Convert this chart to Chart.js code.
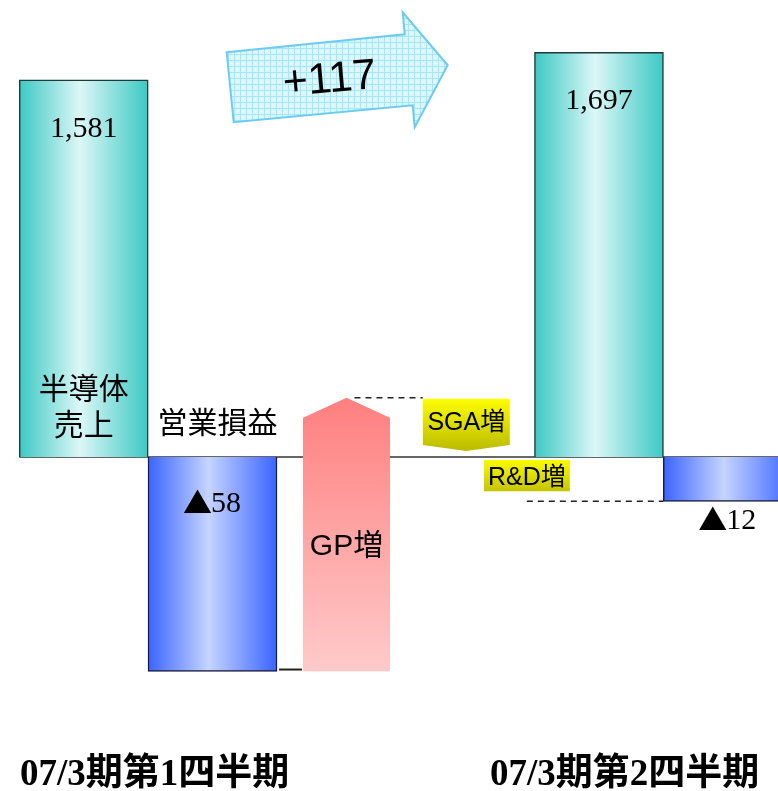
<!DOCTYPE html>
<html lang="ja">
<head>
<meta charset="utf-8">
<title>半導体売上・営業損益</title>
<script src="https://cdn.jsdelivr.net/npm/chart.js@4.4.1/dist/chart.umd.min.js"></script>
<style>
  html, body { margin: 0; padding: 0; background: #fff; overflow: hidden; }
  #chart { display: block; }
</style>
</head>
<body>
<canvas id="chart" width="778" height="791"></canvas>
<script>
/* 半導体売上と営業損益の四半期比較（営業損益の増減ブリッジ付き） */
const periods = ["07/3期第1四半期", "07/3期第2四半期"];
const sales = [1581, 1697];
const opIncome = [-58, -12];
const bridgeLabels = ["GP増", "SGA増", "R&D増"];
const bridgeDeltas = [74, -16, -12];
const salesChange = "+117";
const salesTitle = ["半導体", "売上"];
const opTitle = "営業損益";

/* ---------- layout (x measured in bar slots) ---------- */
const X_MIN = -0.15, X_MAX = 5.89;
const SLOT = { sales: [0.5, 4.5], op: [1.5, 5.5], bridge: [2.54, 3.47, 3.94], period: [1.05, 4.7] };
const W_MAIN = 129;
const W_BRIDGE = [87, 87, 86];
const SERIF = '"Liberation Serif", "Noto Sans CJK JP", serif';
const SANS = '"Liberation Sans", "Noto Sans CJK JP", sans-serif';
const CJK = '"Noto Sans CJK JP", sans-serif';

// running level of operating income through the bridge steps
const steps = [];
let level = opIncome[0];
bridgeDeltas.forEach((d) => { steps.push([level, level + d]); level += d; });

/* ---------- fills ---------- */
function hGrad(edge, mid, width) {
  return (c) => {
    const { chart, raw } = c;
    if (!chart.chartArea || !raw) return edge;
    const cx = chart.scales.x.getPixelForValue(raw.x);
    const g = chart.ctx.createLinearGradient(cx - width / 2, 0, cx + width / 2, 0);
    g.addColorStop(0, edge);
    g.addColorStop(0.47, mid);
    g.addColorStop(1, edge);
    return g;
  };
}

function vGrad(top, bottom) {
  return (c) => {
    const { chart, raw, dataset } = c;
    if (!chart.chartArea || !raw) return top;
    const s = chart.scales[dataset.yAxisID];
    const g = chart.ctx.createLinearGradient(0, s.getPixelForValue(Math.max(...raw.y)), 0, s.getPixelForValue(Math.min(...raw.y)));
    g.addColorStop(0, top);
    g.addColorStop(1, bottom);
    return g;
  };
}

function gridPattern(ctx) {
  const p = document.createElement("canvas");
  p.width = p.height = 6;
  const g = p.getContext("2d");
  g.fillStyle = "#d9f7fd"; g.fillRect(0, 0, 6, 6);
  g.fillStyle = "#a3e8f8"; g.fillRect(0, 0, 6, 1); g.fillRect(0, 0, 1, 6);
  g.fillStyle = "#f4feff"; g.fillRect(3, 3, 1, 1);
  return ctx.createPattern(p, "repeat");
}

// "▲58" style label: the triangle comes from the CJK font, digits in serif
function drawValue(ctx, v, x, y) {
  const mark = v < 0 ? "▲" : "";
  const num = String(Math.abs(v));
  ctx.font = "29px " + CJK;
  const wm = mark ? ctx.measureText(mark).width - 2 : 0;
  ctx.font = "30px " + SERIF;
  const wn = ctx.measureText(num).width;
  const left = x - (wm + wn) / 2;
  ctx.textAlign = "left";
  if (mark) {
    ctx.font = "29px " + CJK;
    ctx.fillText(mark, left - 1, y - 1);
  }
  ctx.font = "30px " + SERIF;
  ctx.fillText(num, left + wm, y);
  ctx.textAlign = "center";
}

/* ---------- plugin: bar outlines (arrow head, tags) ---------- */
const shapes = {
  id: "shapes",
  beforeDatasetDraw(chart, args) {
    const shape = chart.data.datasets[args.index].shape;
    if (!shape) return;
    const ctx = chart.ctx;
    ctx.save();
    ctx.beginPath();
    args.meta.data.forEach((el) => {
      const { x, y, base, width } = el.getProps(["x", "y", "base", "width"], true);
      const top = Math.min(y, base), bot = Math.max(y, base);
      const l = x - width / 2, r = x + width / 2;
      if (shape === "arrowUp") {
        ctx.moveTo(l, bot); ctx.lineTo(l, top + 20); ctx.lineTo(x, top);
        ctx.lineTo(r, top + 20); ctx.lineTo(r, bot);
      } else if (shape === "tagDown") {
        ctx.moveTo(l, top + 1); ctx.lineTo(r, top + 1); ctx.lineTo(r, bot - 12);
        ctx.lineTo(x, bot - 6); ctx.lineTo(l, bot - 12);
      } else {
        ctx.rect(l, top + 3, width, bot - top - 13);
      }
      ctx.closePath();
    });
    ctx.clip();
  },
  afterDatasetDraw(chart, args) {
    if (chart.data.datasets[args.index].shape) chart.ctx.restore();
  },
};

/* ---------- plugin: baseline, guides and texts ---------- */
const annotate = {
  id: "annotate",
  beforeDatasetsDraw(chart) {
    const { ctx, chartArea, scales } = chart;
    const y0 = scales.ySales.getPixelForValue(0);
    const xl = scales.x.getPixelForValue(SLOT.sales[0]) - W_MAIN / 2;
    ctx.save();
    ctx.strokeStyle = "#333";
    ctx.lineWidth = 1.5;
    ctx.beginPath(); ctx.moveTo(xl, y0); ctx.lineTo(chartArea.right, y0); ctx.stroke();
    ctx.restore();
  },
  afterDatasetsDraw(chart) {
    const { ctx, scales } = chart;
    const px = (v) => scales.x.getPixelForValue(v);
    const ys = (v) => scales.ySales.getPixelForValue(v);
    const yo = (v) => scales.yOp.getPixelForValue(v);
    const y0 = ys(0);
    ctx.save();
    ctx.fillStyle = "#000";
    ctx.textAlign = "center";
    ctx.textBaseline = "middle";

    // sales values
    ctx.font = "30px " + SERIF;
    sales.forEach((v, i) => ctx.fillText(v.toLocaleString("en-US"), px(SLOT.sales[i]), ys(v) + 49));

    // operating income values (▲ = loss)
    opIncome.forEach((v, i) => {
      const inside = Math.abs(yo(v) - y0) > 80;
      drawValue(ctx, v, px(SLOT.op[i]), inside ? y0 + 47 : yo(v) + 20);
    });

    // titles
    ctx.font = "30px " + CJK;
    salesTitle.forEach((t, i) => ctx.fillText(t, px(SLOT.sales[0]), y0 - 69 + i * 36));
    ctx.fillText(opTitle, px(SLOT.op[0]) + 5, y0 - 35);

    // bridge step labels
    ctx.font = "30px " + SANS;
    ctx.fillText(bridgeLabels[0], px(SLOT.bridge[0]), yo((steps[0][0] + steps[0][1]) / 2) + 12);
    ctx.font = "25px " + SANS;
    ctx.fillText(bridgeLabels[1], px(SLOT.bridge[1]), yo(steps[1][0]) + 25);
    ctx.fillText(bridgeLabels[2], px(SLOT.bridge[2]), (yo(steps[2][0]) + yo(steps[2][1])) / 2 - 1);

    // connector from Q1 loss to the GP step
    ctx.strokeStyle = "#222";
    ctx.lineWidth = 2;
    ctx.beginPath();
    ctx.moveTo(px(SLOT.op[0]) + W_MAIN / 2 + 2, yo(opIncome[0]) - 2);
    ctx.lineTo(px(SLOT.bridge[0]) - W_BRIDGE[0] / 2 - 1, yo(opIncome[0]) - 2);
    ctx.stroke();

    // dashed guides between steps
    ctx.lineWidth = 1.5;
    ctx.setLineDash([6, 5]);
    ctx.beginPath();
    ctx.moveTo(px(SLOT.bridge[0]) + 8, yo(steps[0][1]));
    ctx.lineTo(px(SLOT.bridge[1]) - W_BRIDGE[1] / 2, yo(steps[0][1]));
    ctx.moveTo(px(SLOT.bridge[2]), yo(steps[2][1]));
    ctx.lineTo(px(SLOT.op[1]) - W_MAIN / 2, yo(steps[2][1]));
    ctx.stroke();
    ctx.setLineDash([]);

    // sales change arrow
    const ax = px(1.61), ay = ys(sales[1]);
    const pts = [[0, 0], [178, -18], [176, -40], [221, 13], [188, 75], [186, 53], [7, 70]];
    ctx.beginPath();
    pts.forEach(([dx, dy], i) => (i ? ctx.lineTo(ax + dx, ay + dy) : ctx.moveTo(ax + dx, ay + dy)));
    ctx.closePath();
    ctx.fillStyle = gridPattern(ctx);
    ctx.fill();
    ctx.strokeStyle = "#6ccbf2";
    ctx.lineWidth = 2;
    ctx.stroke();

    ctx.translate(ax + 103, ay + 28);
    ctx.rotate(-5 * Math.PI / 180);
    ctx.fillStyle = "#000";
    ctx.font = "43px " + SANS;
    ctx.fillText(salesChange, 0, 0);
    ctx.restore();
  },
};

/* ---------- chart ---------- */
new Chart(document.getElementById("chart"), {
  type: "bar",
  data: {
    datasets: [
      {
        label: "半導体売上", yAxisID: "ySales",
        data: sales.map((v, i) => ({ x: SLOT.sales[i], y: v })),
        barThickness: W_MAIN, grouped: false,
        backgroundColor: hGrad("#3cc9c4", "#dcf7f7", W_MAIN),
        borderColor: "#1f3a3a", borderWidth: 1.5,
      },
      {
        label: "営業損益", yAxisID: "yOp",
        data: opIncome.map((v, i) => ({ x: SLOT.op[i], y: v })),
        barThickness: W_MAIN, grouped: false,
        backgroundColor: hGrad("#3a64ff", "#c6d4ff", W_MAIN),
        borderColor: "#1a1a3a", borderWidth: 1.5,
      },
      ...bridgeLabels.map((lab, i) => ({
        label: lab, yAxisID: "yOp",
        data: [{ x: SLOT.bridge[i], y: steps[i] }],
        barThickness: W_BRIDGE[i], grouped: false, borderWidth: 0,
        backgroundColor: i === 0 ? vGrad("#ff7f7f", "#ffcaca") : vGrad("#ffff00", "#b3b300"),
        shape: ["arrowUp", "tagDown", "tag"][i],
      })),
    ],
  },
  options: {
    responsive: false,
    animation: false,
    events: [],
    layout: { padding: 0 },
    plugins: { legend: { display: false }, tooltip: { enabled: false } },
    scales: {
      x: {
        type: "linear", min: X_MIN, max: X_MAX, offset: false,
        grid: { display: false, drawTicks: false }, border: { display: false },
        afterBuildTicks: (axis) => { axis.ticks = SLOT.period.map((v) => ({ value: v })); },
        afterFit: (axis) => { axis.height = 44; },
        ticks: {
          autoSkip: false, maxRotation: 0, padding: 6, color: "#000",
          font: { family: SERIF, size: 37, weight: "bold" },
          callback: (v, i) => periods[i],
        },
      },
      ySales: { display: false, min: -1216, max: 1916 },
      yOp: { display: false, min: -78.4, max: 123.5 },
    },
  },
  plugins: [shapes, annotate],
});
</script>
</body>
</html>
